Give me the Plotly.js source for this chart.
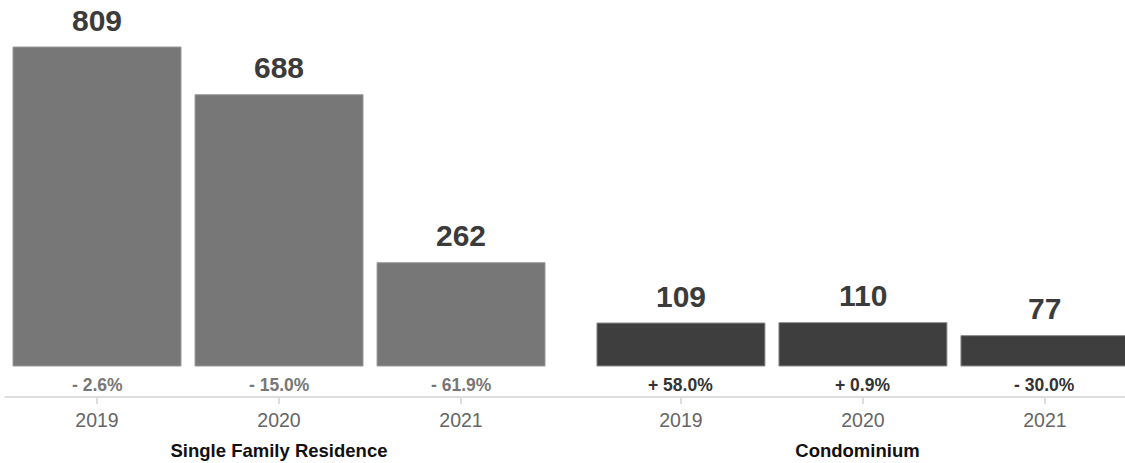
<!DOCTYPE html>
<html><head><meta charset="utf-8">
<script src="https://cdn.plot.ly/plotly-3.0.1.min.js"></script>
<style>html,body{margin:0;padding:0;background:#fff}#chart{width:1125px;height:463px}</style>
</head><body><div id="chart"></div>
<script>
const years = ["2019", "2020", "2021"];
const groups = ["Single Family Residence", "Condominium"];
const sfrValues = [809, 688, 262];
const condoValues = [109, 110, 77];
const sfrChange = ["- 2.6%", "- 15.0%", "- 61.9%"];
const condoChange = ["+ 58.0%", "+ 0.9%", "- 30.0%"];

const FONT = "'Liberation Sans', Arial, Helvetica, sans-serif";
const sfrColor = "#777777", condoColor = "#3e3e3e";

const traces = [
  {type:"bar", x:years, y:sfrValues, xaxis:"x", yaxis:"y",
   marker:{color:sfrColor, line:{color:"#9a9a9a", width:1}}, hoverinfo:"none"},
  {type:"bar", x:years, y:condoValues, xaxis:"x2", yaxis:"y",
   marker:{color:condoColor, line:{color:"#8a8a8a", width:1}}, hoverinfo:"none"}
];

const annotations = [];
function addLabels(vals, changes, xref, chColor){
  vals.forEach((v,i)=>{
    // category index i on the category axis
    annotations.push({x:i, y:v, xref:xref, yref:"y", text:"<b>"+v+"</b>",
      showarrow:false, yanchor:"middle", yshift:27,
      font:{family:FONT, size:30, color:"#3b3b3b"}});
    annotations.push({x:i, y:0, xref:xref, yref:"y", text:"<b>"+changes[i]+"</b>",
      showarrow:false, yanchor:"middle", yshift:-19,
      font:{family:FONT, size:17.5, color:chColor}});
  });
}
addLabels(sfrValues, sfrChange, "x", "#777777");
addLabels(condoValues, condoChange, "x2", "#333333");

const xcommon = {type:"category", showgrid:false, zeroline:false, showline:false,
  ticks:"outside", ticklen:6, tickwidth:1.5, tickcolor:"#dddddd",
  tickfont:{family:FONT, size:19.5, color:"#666666"}, fixedrange:true};

const layout = {
  width:1125, height:463,
  margin:{l:0, r:0, t:0, b:66},
  paper_bgcolor:"#ffffff", plot_bgcolor:"#ffffff",
  showlegend:false, bargap:0.077,
  font:{family:FONT},
  xaxis:Object.assign({}, xcommon, {domain:[0.00533, 0.4907], range:[-0.5, 2.5],
    title:{text:"<b>"+groups[0]+"</b>", standoff:13, font:{family:FONT, size:18.5, color:"#111111"}}}),
  xaxis2:Object.assign({}, xcommon, {domain:[0.5244, 1], range:[-0.5, 2.44], anchor:"y",
    title:{text:"<b>"+groups[1]+"</b>", standoff:13, font:{family:FONT, size:18.5, color:"#111111"}}}),
  yaxis:{visible:false, range:[-78.6, 928.2], fixedrange:true},
  shapes:[{type:"line", xref:"paper", yref:"paper", x0:0.004, x1:1, y0:0, y1:0,
    line:{color:"#dddddd", width:2}, layer:"below"}],
  annotations:annotations
};

Plotly.newPlot("chart", traces, layout, {displayModeBar:false, staticPlot:true});
</script></body></html>
